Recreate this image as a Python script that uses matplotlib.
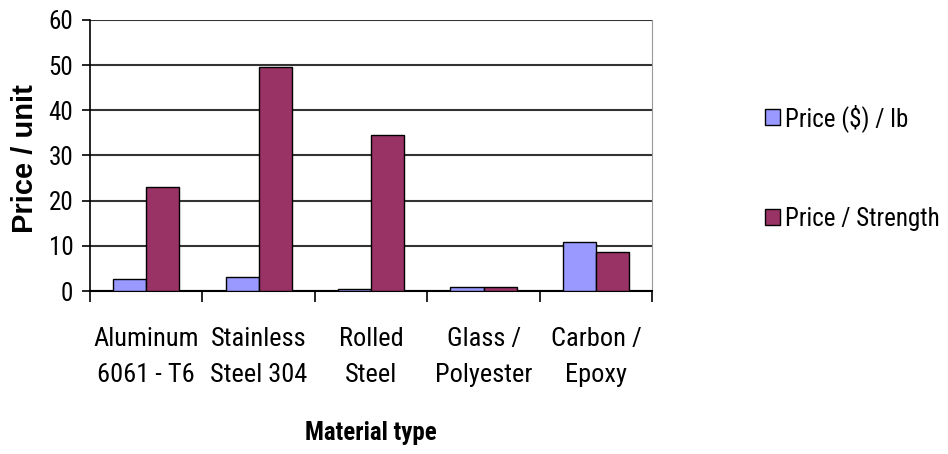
import numpy as np
import matplotlib
matplotlib.use("Agg")
import matplotlib.pyplot as plt

# Material cost comparison
materials = ["Aluminum\n6061 - T6", "Stainless\nSteel 304", "Rolled\nSteel",
             "Glass /\nPolyester", "Carbon /\nEpoxy"]
price_per_lb = [2.6, 3.2, 0.4, 0.9, 10.8]
price_per_strength = [23.1, 49.6, 34.5, 0.9, 8.6]
series_names = ["Price ($) / lb", "Price / Strength"]

# narrow sans, close to the old spreadsheet look
plt.rcParams["font.family"] = ["Roboto Condensed", "Liberation Sans", "DejaVu Sans"]

fig = plt.figure(figsize=(9.48, 4.54), dpi=100)
ax = fig.add_axes([0.095, 0.359, 0.593, 0.597])

x = np.arange(len(materials))
w = 0.295
ax.bar(x - w / 2, price_per_lb, width=w, color="#9999FF",
       edgecolor="black", linewidth=1.0, label=series_names[0], zorder=3)
ax.bar(x + w / 2, price_per_strength, width=w, color="#993366",
       edgecolor="black", linewidth=1.0, label=series_names[1], zorder=3)

ax.set_xlim(-0.5, len(materials) - 0.5)
ax.set_ylim(0, 60)
ax.set_yticks(range(0, 61, 10))
ax.yaxis.grid(True, color="#333333", linewidth=1.5, zorder=1)

# category boundaries as minor ticks, labels centred on majors
ax.set_xticks(x)
ax.set_xticklabels(materials, fontsize=19, linespacing=1.65)
ax.set_xticks(np.arange(-0.5, len(materials), 1), minor=True)
ax.tick_params(axis="x", which="major", length=0, pad=26)
ax.tick_params(axis="x", which="minor", length=8, width=1.2, direction="out")
ax.tick_params(axis="y", length=6, width=1.2, labelsize=18, pad=6)

ax.spines["top"].set_visible(False)
ax.spines["right"].set_color("#999999")
ax.spines["left"].set_linewidth(1.2)
ax.spines["bottom"].set_linewidth(1.5)

ax.set_xlabel("Material type", fontsize=18, fontweight="bold", labelpad=24)
ax.set_ylabel("Price / unit", fontsize=21, fontweight="bold",
              family=["Liberation Sans", "DejaVu Sans"])
ax.yaxis.set_label_coords(-0.09, 0.49)

leg = fig.legend(loc="upper left", bbox_to_anchor=(0.783, 0.82),
                 frameon=False, fontsize=18, handlelength=0.6,
                 handleheight=0.6, handletextpad=0.2, labelspacing=3.0)

fig.savefig("out.png", dpi=100, facecolor="white")
